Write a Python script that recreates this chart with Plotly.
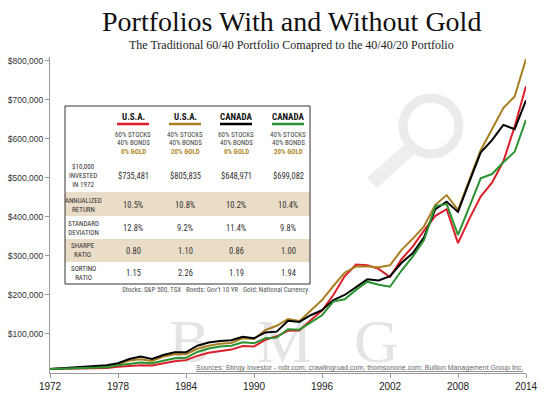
import plotly.graph_objects as go

years = list(range(1972, 2015))
usa_60_40 = [10, 10.5, 9.5, 10, 11.5, 12.5, 16, 18, 20, 19, 25, 30, 33, 44, 52, 56, 60, 69, 68, 85, 94, 108, 109,
             135, 160, 200, 248, 278, 276, 267, 246, 291, 324, 365, 403, 420, 333, 395, 452, 488, 542, 632, 735]
usa_40_40_20 = [10, 12, 13, 14, 16, 18, 23, 32, 35, 31, 42, 48, 48, 62, 70, 75, 77, 89, 87, 110, 121, 138, 133,
                160, 187, 223, 257, 273, 273, 271, 276, 315, 344, 376, 431, 456, 418, 495, 571, 625, 679, 709, 805]
can_black = [10, 12, 13, 15, 17, 20, 25, 36, 42, 36, 46, 53, 53, 70, 78, 82, 84, 93, 89, 104, 106, 134, 131,
             148, 161, 187, 200, 220, 240, 237, 248, 282, 307, 348, 420, 439, 413, 490, 565, 597, 636, 625, 699]
can_green = [10, 11, 11, 12, 13.5, 15, 20, 24, 27, 25, 32, 38, 39, 54, 63, 68, 70, 79, 76, 89, 91, 112, 111,
             130, 148, 183, 189, 213, 234, 226, 221, 262, 298, 341, 428, 433, 354, 426, 499, 510, 540, 567, 649]

series = [
    ("U.S.A. 60/40", usa_60_40, "#dc1f2b"),
    ("U.S.A. 40/40/20", usa_40_40_20, "#a97f22"),
    ("CANADA (black)", can_black, "#000000"),
    ("CANADA (green)", can_green, "#2a9230"),
]

x_ticks = [1972, 1978, 1984, 1990, 1996, 2002, 2008, 2014]
y_ticks = [100000, 200000, 300000, 400000, 500000, 600000, 700000, 800000]
y_tick_labels = ["$100,000", "$200,000", "$300,000", "$400,000", "$500,000", "$600,000", "$700,000", "$800,000"]

col_heads = ["U.S.A.", "U.S.A.", "CANADA", "CANADA"]
col_colors = ["#dc1f2b", "#a97f22", "#000000", "#2a9230"]
col_stocks = ["60% STOCKS", "40% STOCKS", "60% STOCKS", "40% STOCKS"]
col_bonds = ["40% BONDS", "40% BONDS", "40% BONDS", "40% BONDS"]
col_gold = ["0% GOLD", "20% GOLD", "0% GOLD", "20% GOLD"]
row_labels = ["$10,000<br>INVESTED<br>IN 1972", "ANNUALIZED<br>RETURN", "STANDARD<br>DEVIATION",
              "SHARPE<br>RATIO", "SORTINO<br>RATIO"]
row_values = [
    ["$735,481", "$805,835", "$648,971", "$699,082"],
    ["10.5%", "10.8%", "10.2%", "10.4%"],
    ["12.8%", "9.2%", "11.4%", "9.8%"],
    ["0.80", "1.10", "0.86", "1.00"],
    ["1.15", "2.26", "1.19", "1.94"],
]

W, H = 550, 399
PL, PR, PT, PB = 50, 526, 57, 373


def px(x):
    return (x - PL) / (PR - PL)


def py(y):
    return (PB - y) / (PB - PT)


NARROW = "Liberation Sans Narrow, Roboto Condensed, DejaVu Sans Condensed, Lato, sans-serif"
SERIF = "Liberation Serif, serif"

fig = go.Figure()

# watermark letters (background)
fig.add_trace(go.Scatter(
    x=[1984.3, 1992.7, 2000.8], y=[68000, 68000, 68000], mode="text",
    text=["B", "M", "G"], textfont=dict(family=SERIF, size=62, color="#e4e4e4"),
    hoverinfo="skip", showlegend=False, cliponaxis=False))

for name, vals, color in series:
    fig.add_trace(go.Scatter(x=years, y=[v * 1000 for v in vals], mode="lines", name=name,
                             line=dict(color=color, width=2), showlegend=False))

shapes = []
anns = []

# magnifier ring watermark
cx, cy, r = 431, 126, 28
shapes.append(dict(type="circle", xref="paper", yref="paper", x0=px(cx - r), x1=px(cx + r),
                   y0=py(cy + r), y1=py(cy - r), line=dict(color="#ebebeb", width=9), layer="below"))
shapes.append(dict(type="line", xref="paper", yref="paper", x0=px(411), y0=py(148), x1=px(372), y1=py(183),
                   line=dict(color="#eeeeee", width=14), layer="below"))

# table bands
for y0, y1 in [(192, 216), (239, 262)]:
    shapes.append(dict(type="rect", xref="paper", yref="paper", x0=px(65), x1=px(310), y0=py(y1), y1=py(y0),
                       fillcolor="#e9ddc7", line=dict(width=0), layer="below"))
# table border
shapes.append(dict(type="rect", xref="paper", yref="paper", x0=px(65), x1=px(310), y0=py(284), y1=py(106),
                   line=dict(color="#333333", width=1), fillcolor="rgba(0,0,0,0)"))

col_x = [133, 185, 236, 288]
for i, cxp in enumerate(col_x):
    anns.append(dict(x=px(cxp), y=py(117), text="<b>" + col_heads[i] + "</b>", font=dict(family=NARROW, size=9, color="#111")))
    shapes.append(dict(type="line", xref="paper", yref="paper", x0=px(cxp - 16), x1=px(cxp + 16), y0=py(124), y1=py(124),
                       line=dict(color=col_colors[i], width=2.5)))
    anns.append(dict(x=px(cxp), y=py(135), text=col_stocks[i], font=dict(family=NARROW, size=7, color="#444")))
    anns.append(dict(x=px(cxp), y=py(143), text=col_bonds[i], font=dict(family=NARROW, size=7, color="#444")))
    anns.append(dict(x=px(cxp), y=py(152), text="<b>" + col_gold[i] + "</b>", font=dict(family=NARROW, size=7, color="#b08a2e")))

row_y = [176, 205, 228, 251, 273]
for j, ry in enumerate(row_y):
    anns.append(dict(x=px(83), y=py(ry), text=row_labels[j], font=dict(family=NARROW, size=7, color="#333")))
    for i, cxp in enumerate(col_x):
        anns.append(dict(x=px(cxp), y=py(ry), text=row_values[j][i], font=dict(family=NARROW, size=8.5, color="#333")))

# footnotes
anns.append(dict(x=px(310), y=py(290), xanchor="right",
                 text="Stocks: S&P 500, TSX   Bonds: Gov't 10 YR   Gold: National Currency",
                 font=dict(family=NARROW, size=7, color="#555")))
anns.append(dict(x=px(525), y=py(368), xanchor="right",
                 text="<u>Sources: Stingy Investor - ndir.com; crawlingroad.com, thomsonone.com; Bullion Management Group Inc.</u>",
                 font=dict(family="Liberation Sans, Arial, sans-serif", size=7, color="#666")))

# titles
anns.append(dict(x=px(291), y=py(21), text="Portfolios With and Without Gold",
                 font=dict(family=SERIF, size=28, color="#111")))
anns.append(dict(x=px(291), y=py(45), text="The Traditional 60/40 Portfolio Comapred to the 40/40/20 Portfolio",
                 font=dict(family=SERIF, size=12, color="#222")))

for a in anns:
    a.setdefault("xanchor", "center")
    a.update(xref="paper", yref="paper", showarrow=False, yanchor="middle")

fig.update_layout(
    width=W, height=H, margin=dict(l=PL, r=W - PR, t=PT, b=H - PB),
    paper_bgcolor="white", plot_bgcolor="white",
    shapes=shapes, annotations=anns,
    xaxis=dict(range=[1972, 2014], tickvals=x_ticks, ticktext=[str(t) for t in x_ticks], automargin=False,
               showgrid=False, zeroline=False, showline=True, linecolor="#999", linewidth=1,
               ticks="outside", ticklen=4, tickcolor="#999",
               tickfont=dict(family="Liberation Sans, Arial, sans-serif", size=10, color="#222")),
    yaxis=dict(range=[0, 810000], tickvals=y_ticks, ticktext=y_tick_labels, automargin=False,
               showgrid=False, zeroline=False, showline=True, linecolor="#999", linewidth=1,
               ticks="outside", ticklen=4, tickcolor="#999",
               tickfont=dict(family="Liberation Sans, Arial, sans-serif", size=8.5, color="#333")),
)

fig.write_html("out.html", config={"displayModeBar": False},
               post_script="document.body.style.margin='0';document.body.style.overflow='hidden';")
